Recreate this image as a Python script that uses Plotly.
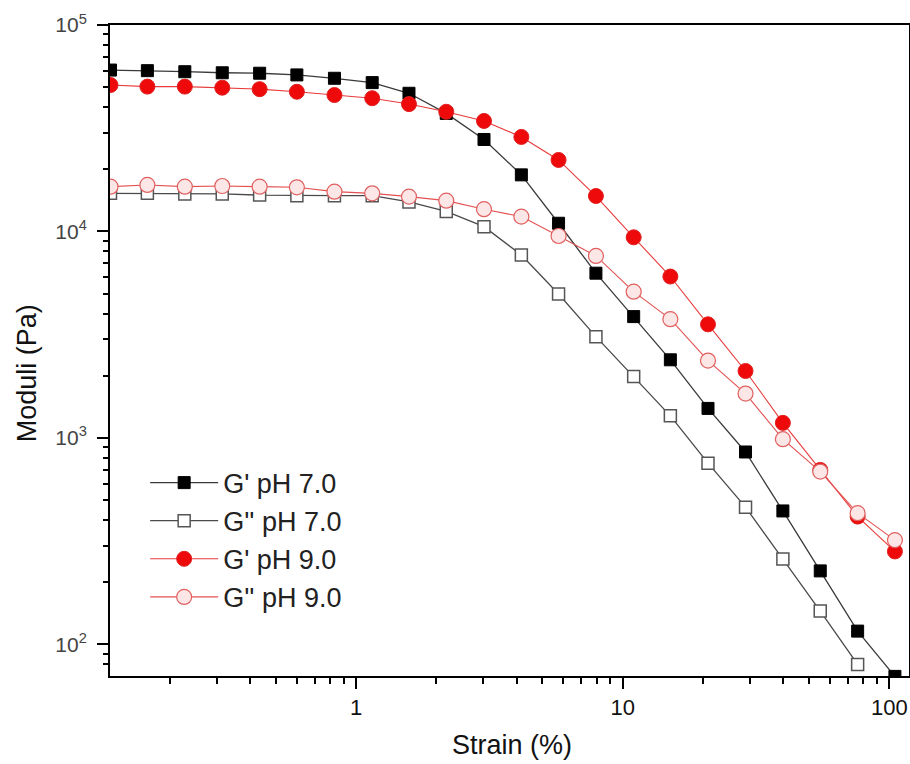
import plotly.graph_objects as go

strain = [0.12, 0.165, 0.228, 0.315, 0.435, 0.60, 0.83, 1.15, 1.58, 2.18, 3.02,
          4.17, 5.75, 7.94, 11.0, 15.1, 20.9, 28.9, 39.9, 55.1, 76.1, 105.0]

g1_ph7 = [60500, 60100, 59400, 58700, 58400, 57300, 55200, 52600, 46700, 37300, 27900,
          18800, 10960, 6280, 3870, 2390, 1390, 855, 443, 227, 116, 70]
g2_ph7 = [15300, 15300, 15200, 15200, 15000, 14900, 14900, 14900, 13900, 12500, 10550,
          7690, 4980, 3095, 1983, 1279, 755, 462, 259, 145, 80]
g1_ph9 = [51200, 50300, 50300, 49700, 48900, 47500, 45800, 44200, 41400, 38000, 34300,
          28700, 22200, 14850, 9370, 6050, 3550, 2110, 1183, 700, 416, 282]
g2_ph9 = [16480, 16800, 16480, 16600, 16480, 16370, 15590, 15300, 14750, 14100, 12820,
          11800, 9510, 7610, 5110, 3760, 2370, 1641, 986, 687, 432, 320]

names = ["G' pH 7.0", "G'' pH 7.0", "G' pH 9.0", "G'' pH 9.0"]

y_major = [100, 1000, 10000, 100000]
y_labels = ["10<sup>2</sup>", "10<sup>3</sup>", "10<sup>4</sup>", "10<sup>5</sup>"]
x_major = [1, 10, 100]
x_labels = ["1", "10", "100"]

fig = go.Figure()
fig.add_trace(go.Scatter(x=strain, y=g1_ph7, name=names[0], mode="lines+markers",
                         line=dict(color="#3a3a3a", width=1.3),
                         marker=dict(symbol="square", size=12, color="black",
                                     line=dict(color="black", width=1))))
fig.add_trace(go.Scatter(x=strain[:len(g2_ph7)], y=g2_ph7, name=names[1], mode="lines+markers",
                         line=dict(color="#4a4a4a", width=1.3),
                         marker=dict(symbol="square", size=12, color="white",
                                     line=dict(color="#555555", width=1.5))))
fig.add_trace(go.Scatter(x=strain, y=g1_ph9, name=names[2], mode="lines+markers",
                         line=dict(color="#e83a3a", width=1.1),
                         marker=dict(symbol="circle", size=15, color="#ee0a0a",
                                     line=dict(color="#e02020", width=1))))
fig.add_trace(go.Scatter(x=strain, y=g2_ph9, name=names[3], mode="lines+markers",
                         line=dict(color="#e45050", width=1.1),
                         marker=dict(symbol="circle", size=15, color="#fde6e6",
                                     line=dict(color="#e06060", width=1.2))))
for tr in fig.data:
    tr.legendgroup = tr.name

y_minor = [80, 90] + [m * 10 ** e for e in (2, 3, 4) for m in range(2, 10)]
x_minor = [m * 10 ** e for e in (-1, 0, 1) for m in range(2, 10)]

fig.update_layout(
    width=910, height=764,
    margin=dict(l=110, r=1, t=25, b=88),
    paper_bgcolor="white", plot_bgcolor="white",
    font=dict(family="Liberation Sans, Arial, sans-serif", color="#111111"),
    showlegend=True,
    legend=dict(x=0.044, y=0.334, xanchor="left", yanchor="top",
                font=dict(size=27, color="#222222"), bgcolor="rgba(0,0,0,0)",
                itemwidth=68, tracegroupgap=0),
    annotations=[
        dict(text="Strain (%)", xref="paper", yref="paper", x=0.503, y=0,
             yshift=-69, xanchor="center", yanchor="middle", showarrow=False,
             font=dict(size=27, color="#111111")),
        dict(text="Moduli (Pa)", xref="paper", yref="paper", x=0, y=0.465,
             xshift=-83, xanchor="center", yanchor="middle", showarrow=False,
             textangle=-90, font=dict(size=27, color="#111111")),
    ],
)
fig.update_xaxes(
    type="log", range=[-0.9227, 2.074], automargin=False,
    showline=True, linecolor="black", linewidth=2, mirror=True,
    showgrid=False, zeroline=False,
    ticks="outside", ticklen=11, tickwidth=2, tickcolor="black",
    tickvals=x_major, ticktext=x_labels,
    tickfont=dict(size=22, color="#111111"),
    minor=dict(ticks="outside", ticklen=6, tickwidth=2, tickcolor="black", tickvals=x_minor),
)
fig.update_yaxes(
    type="log", range=[1.847, 5.0], automargin=False,
    showline=True, linecolor="black", linewidth=2, mirror=True,
    showgrid=False, zeroline=False,
    ticks="outside", ticklen=11, tickwidth=2, tickcolor="black",
    tickvals=y_major, ticktext=y_labels, ticklabelstandoff=6,
    tickfont=dict(size=21, color="#444444"),
    minor=dict(ticks="outside", ticklen=5, tickwidth=2, tickcolor="black", tickvals=y_minor),
)

fig.write_html("out.html", config={"displayModeBar": False},
               post_script="document.body.style.margin='0';document.body.style.overflow='hidden';")
